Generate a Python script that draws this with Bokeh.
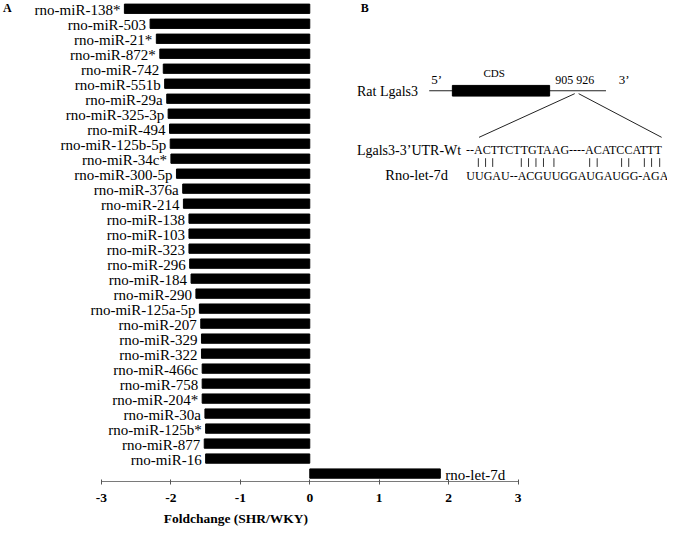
from bokeh.plotting import figure
from bokeh.models import Range1d, LinearAxis, FixedTicker, ColumnDataSource
from bokeh.core.properties import value
from bokeh.embed import file_html
from bokeh.resources import INLINE

# ---- data (panel A) ----
neg_labels = ["rno-miR-138*", "rno-miR-503", "rno-miR-21*", "rno-miR-872*", "rno-miR-742",
              "rno-miR-551b", "rno-miR-29a", "rno-miR-325-3p", "rno-miR-494", "rno-miR-125b-5p",
              "rno-miR-34c*", "rno-miR-300-5p", "rno-miR-376a", "rno-miR-214", "rno-miR-138",
              "rno-miR-103", "rno-miR-323", "rno-miR-296", "rno-miR-184", "rno-miR-290",
              "rno-miR-125a-5p", "rno-miR-207", "rno-miR-329", "rno-miR-322", "rno-miR-466c",
              "rno-miR-758", "rno-miR-204*", "rno-miR-30a", "rno-miR-125b*", "rno-miR-877",
              "rno-miR-16"]
neg_values = [-2.67, -2.30, -2.21, -2.16, -2.11, -2.09, -2.06, -2.04, -2.02, -2.01,
              -2.00, -1.92, -1.83, -1.82, -1.74, -1.74, -1.74, -1.73, -1.71, -1.64,
              -1.59, -1.57, -1.56, -1.56, -1.55, -1.55, -1.55, -1.51, -1.50, -1.52,
              -1.50]
pos_labels = ["rno-let-7d"]
pos_values = [1.88]
x_ticks = [-3, -2, -1, 0, 1, 2, 3]
x_title = "Foldchange (SHR/WKY)"

# ---- panel B texts ----
utr_label = "Lgals3-3\u2019UTR-Wt"
utr_seq = "--ACTTCTTGTAAG----ACATCCATTT"
mir_label = "Rno-let-7d"
mir_seq = "UUGAU--ACGUUGGAUGAUGG-AGA"
pair_x = [489.3, 496.7, 504, 533.3, 540.7, 548.3, 556, 566.7, 603.3, 611,
          636, 643.3, 659.3, 666.7, 675]

W, H = 667, 526
REF_W, REF_H = 683, 542
X0_REF, UNIT_REF = 316.7, 71.1
ROW0_REF, ROW_REF = 8.5, 15.45

def ry(y_ref):
    return -(y_ref - ROW0_REF) / ROW_REF

def rx(x_ref):
    return (x_ref - X0_REF) / UNIT_REF

SERIF = value("Liberation Serif")
INK = "black"

p = figure(width=W, height=H, output_backend="svg", toolbar_location=None,
           x_range=Range1d(rx(0), rx(REF_W)), y_range=Range1d(ry(REF_H), ry(0)),
           min_border=0, x_axis_location=None, y_axis_location=None)
p.outline_line_color = None
p.grid.visible = False
p.background_fill_color = "white"
p.extra_x_ranges = {"px": Range1d(0, REF_W)}
p.extra_y_ranges = {"py": Range1d(REF_H, 0)}

n = len(neg_labels)
rows_neg = [-i for i in range(n)]
rows_pos = [-(n + i) for i in range(len(pos_labels))]

src_neg = ColumnDataSource(dict(y=rows_neg, v=neg_values, lab=neg_labels, z=[0] * n))
src_pos = ColumnDataSource(dict(y=rows_pos, v=pos_values, lab=pos_labels, z=[0] * len(pos_labels)))

p.hbar(y="y", left="v", right="z", height=0.62, source=src_neg, color=INK)
p.hbar(y="y", left="z", right="v", height=0.62, source=src_pos, color=INK)

p.text(x="v", y="y", text="lab", source=src_neg, text_align="right", text_baseline="middle",
       x_offset=-4, y_offset=1, text_font=SERIF, text_font_size="15px", text_color=INK)
p.text(x="v", y="y", text="lab", source=src_pos, text_align="left", text_baseline="middle",
       x_offset=5, y_offset=1, text_font=SERIF, text_font_size="15px", text_color=INK)

ax = LinearAxis(ticker=FixedTicker(ticks=x_ticks), bounds=(-3, 3), fixed_location=ry(495.5))
ax.major_label_overrides = {t: str(t) for t in x_ticks}
ax.axis_line_color = "#7a7a7a"
ax.axis_line_width = 1.2
ax.major_tick_line_color = "#555555"
ax.major_tick_in = 2
ax.major_tick_out = 3
ax.minor_tick_line_color = None
ax.major_label_standoff = 10
ax.major_label_text_font = "Liberation Serif"
ax.major_label_text_font_style = "bold"
ax.major_label_text_font_size = "13.5px"
ax.major_label_text_color = INK
p.add_layout(ax, "below")

p.text(x=[rx(241)], y=[ry(533.5)], text=[x_title], text_align="center", text_baseline="middle",
       text_font=SERIF, text_font_style="bold", text_font_size="13.5px", text_color=INK)

# ---- panel letters ----
p.text(x=[7, 373], y=[7.5, 7.5], text=["A", "B"], x_range_name="px", y_range_name="py",
       text_align="center", text_baseline="middle", text_font=SERIF, text_font_style="bold",
       text_font_size="12px", text_color=INK)

# ---- panel B schematic ----
p.segment(x0=[439], y0=[93], x1=[620], y1=[93], x_range_name="px", y_range_name="py",
          line_color="#222222", line_width=1)
p.quad(left=[462.7], right=[562.3], top=[87.5], bottom=[98.5], x_range_name="px",
       y_range_name="py", color=INK)
p.segment(x0=[588, 592], y0=[96, 96], x1=[490, 677], y1=[141, 141], x_range_name="px",
          y_range_name="py", line_color="#222222", line_width=1)

def label(x, y, t, size, align="left"):
    p.text(x=[x], y=[y], text=[t], x_range_name="px", y_range_name="py",
           text_align=align, text_baseline="middle", text_font=SERIF,
           text_font_size=size, text_color=INK)

label(365, 93.5, "Rat Lgals3", "14px")
label(441, 81.5, "5\u2019", "13px")
label(505.5, 75, "CDS", "11px", "center")
label(568, 81.5, "905 926", "12px")
label(633, 81, "3\u2019", "13px")
label(365, 155, utr_label, "14px")
label(476.7, 154, utr_seq, "12px")
label(394, 180, mir_label, "14.5px")
label(477, 181, mir_seq, "12px")

# base-pairing ticks
p.segment(x0=pair_x, y0=[162.5] * len(pair_x), x1=pair_x, y1=[171.5] * len(pair_x),
          x_range_name="px", y_range_name="py", line_color="#333333", line_width=1)

open("out.html", "w").write(file_html(p, INLINE))
